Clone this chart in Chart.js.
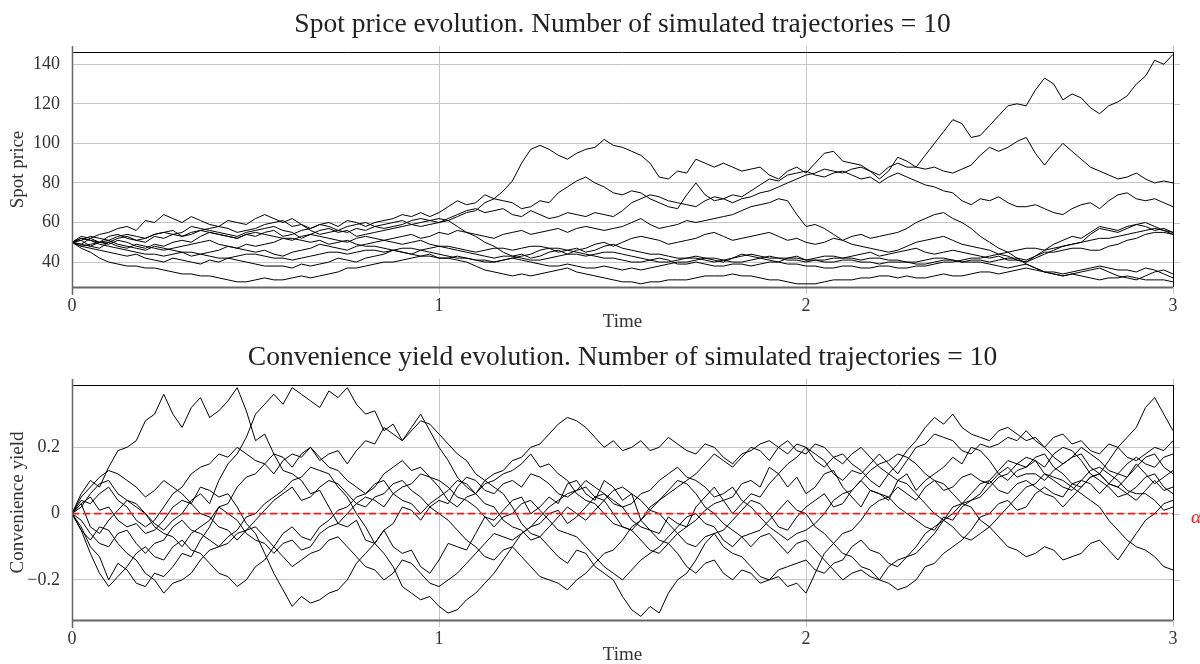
<!DOCTYPE html>
<html>
<head>
<meta charset="utf-8">
<title>Spot price and convenience yield</title>
<script src="https://cdn.jsdelivr.net/npm/chart.js@4.4.1/dist/chart.umd.min.js"></script>
<style>
  html, body { margin: 0; padding: 0; background: #fff; }
  #wrap { position: relative; width: 1200px; height: 664px; overflow: hidden; }
  canvas { position: absolute; left: 0; }
  #spot { top: 0; }
  #yield { top: 333px; }
</style>
</head>
<body>
<div id="wrap">
  <canvas id="spot" width="1200" height="332"></canvas>
  <canvas id="yield" width="1200" height="332"></canvas>
</div>
<script>
// time grid: 0 .. 3 in steps of 0.025
const times = Array.from({ length: 121 }, (_, i) => i / 40);
const timeTicks = [0, 1, 2, 3];
const spotTicks = [40, 60, 80, 100, 120, 140];
const yieldTicks = [-0.2, 0, 0.2];

// spot price trajectories
const spot1 = [50,49,52,54,55,57,58,56,61,60,64,62,60,63,61,59,58,61,60,59,62,64,62,60,62,59,57,59,60,58,61,60,58,60,61,62,64,63,65,63,65,68,71,69,70,74,72,76,81,90,97,99,97,94,92,95,97,98,102,99,98,96,94,90,83,82,86,85,92,90,88,90,88,86,87,88,84,82,86,88,85,90,95,96,91,90,89,86,82,86,93,91,88,94,100,106,112,110,103,104,109,114,119,120,119,127,133,130,122,125,123,118,115,119,121,124,130,134,142,140,145];
const spot2 = [50,52,51,50,53,54,52,51,50,53,52,54,55,58,57,56,55,54,53,55,56,57,58,56,55,52,54,56,57,55,56,53,54,55,56,57,58,59,60,61,62,61,63,65,66,70,72,71,70,67,68,71,70,75,78,81,83,80,78,75,74,76,75,72,70,68,67,74,80,74,71,72,70,72,73,75,76,78,80,82,84,85,87,86,85,87,88,86,84,88,90,88,88,87,88,86,85,87,89,94,98,96,98,101,103,95,89,95,100,96,92,88,86,84,82,83,85,82,80,81,80];
const spot3 = [50,51,48,47,50,52,53,51,52,54,55,56,53,54,56,57,58,57,55,56,57,59,60,61,58,59,56,54,55,56,58,59,60,58,57,58,59,61,62,61,60,62,64,66,67,65,66,67,64,63,66,64,62,63,65,64,63,65,64,63,66,70,72,74,73,71,70,69,68,71,73,72,74,73,76,79,82,81,84,85,86,84,83,85,86,84,82,83,80,83,85,83,81,79,78,76,75,71,69,72,71,73,70,68,68,69,67,65,64,67,69,70,67,71,74,75,72,71,72,70,68];
const spot4 = [50,53,52,50,49,51,50,48,47,49,48,50,51,50,53,55,54,53,52,54,53,55,56,53,54,56,57,59,58,56,55,57,56,58,59,60,61,59,58,59,60,61,58,55,53,50,48,45,43,44,42,43,45,46,44,46,47,49,50,48,50,52,53,52,51,49,50,51,52,54,55,53,51,52,53,54,55,53,51,52,50,49,50,52,51,53,54,52,53,54,55,57,60,62,64,65,62,60,57,53,50,47,45,42,39,37,35,34,33,34,35,36,37,35,33,32,31,33,35,36,34];
const spot5 = [50,48,49,50,51,49,48,47,46,48,47,46,45,43,44,45,46,48,47,46,45,46,44,43,45,46,47,49,48,47,46,48,49,50,51,52,53,54,52,53,55,54,56,55,54,53,52,54,55,56,54,55,56,57,55,57,58,57,56,57,58,60,62,59,57,58,59,61,60,61,62,63,64,66,68,69,70,72,71,64,58,59,57,54,51,49,48,47,46,45,46,48,50,51,52,53,51,49,48,47,46,44,43,41,40,43,46,49,51,53,52,55,58,57,56,58,59,60,58,56,54];
const spot6 = [50,48,47,46,45,44,43,44,42,41,40,42,41,40,39,41,40,42,41,40,39,38,38,38,37,39,38,39,40,42,41,40,42,43,44,46,45,44,43,44,42,42,43,42,41,41,40,41,42,43,44,46,47,45,46,47,45,46,48,49,47,46,45,44,44,43,42,42,43,42,41,40,42,44,43,42,41,40,42,43,41,42,43,43,42,43,44,45,43,44,45,46,47,45,44,45,46,45,44,43,42,43,41,41,40,42,44,46,48,49,50,54,57,56,55,57,59,58,56,57,55];
const spot7 = [50,51,53,52,51,53,54,53,52,54,55,54,53,55,56,55,54,53,52,54,55,54,53,52,51,53,54,53,52,51,50,52,53,52,51,50,49,50,51,49,48,47,46,45,44,43,42,43,43,42,41,41,42,43,44,44,43,44,45,45,44,43,42,41,40,40,41,42,42,41,40,41,42,43,44,43,42,42,41,41,40,41,41,42,42,42,41,42,42,41,41,40,40,41,42,42,41,40,41,41,40,41,42,42,41,43,45,45,46,47,47,46,46,48,49,51,52,54,55,55,54];
const spot8 = [50,49,48,50,50,48,47,49,48,47,46,47,48,49,50,51,49,48,47,49,48,49,50,52,52,51,50,51,49,50,51,49,48,48,47,46,45,44,46,45,44,43,42,42,41,40,40,41,42,41,40,39,38,38,39,38,37,37,38,37,36,37,36,37,38,39,40,40,41,42,42,41,40,40,41,42,43,42,42,42,41,41,40,40,41,41,40,40,39,40,40,40,39,39,40,41,41,40,40,40,39,38,37,38,39,37,35,34,33,34,33,32,31,32,32,33,32,31,31,31,30];
const spot9 = [50,47,45,42,40,39,38,38,37,37,36,35,34,34,33,33,32,31,30,30,31,32,31,31,32,33,32,33,34,35,37,37,38,39,40,40,41,42,43,43,42,42,41,40,38,36,35,34,33,34,33,34,35,36,37,35,34,33,32,31,30,30,29,30,30,31,31,31,32,33,33,33,34,33,33,32,31,31,30,29,29,29,30,31,31,31,32,32,33,33,32,33,32,32,33,34,33,33,34,35,35,34,35,36,37,36,35,35,34,35,36,37,38,37,36,36,35,37,36,34,32];
const spot10 = [50,52,51,49,48,47,46,45,44,44,43,44,45,45,44,43,42,42,43,44,44,43,42,42,41,42,43,44,45,45,44,45,46,46,45,46,47,47,46,47,48,48,47,46,45,46,47,47,46,47,48,48,47,47,46,45,44,43,42,42,41,40,40,41,42,41,39,39,40,39,38,38,39,39,38,39,40,40,39,39,38,38,37,37,38,38,37,37,38,38,37,37,38,38,39,40,40,41,42,42,43,44,45,46,47,47,46,47,48,49,50,51,52,52,53,54,55,56,57,56,55];

// convenience yield trajectories
const yield1 = [0.00,0.06,0.10,0.08,0.14,0.19,0.20,0.22,0.28,0.30,0.36,0.30,0.26,0.32,0.35,0.29,0.31,0.34,0.38,0.31,0.22,0.24,0.18,0.13,0.12,0.10,0.06,0.07,0.02,-0.03,-0.04,-0.02,-0.08,-0.09,-0.05,-0.10,-0.12,-0.11,-0.16,-0.18,-0.14,-0.09,-0.10,-0.11,-0.06,-0.01,-0.02,0.01,0.04,0.05,0.00,0.02,0.05,0.03,0.09,0.10,0.06,0.04,0.10,0.08,0.04,0.06,-0.02,-0.05,-0.06,-0.01,-0.03,-0.04,0.02,0.05,0.08,0.04,0.05,0.09,0.10,0.08,0.14,0.12,0.08,0.11,0.06,0.08,0.12,0.13,0.08,0.05,0.02,0.07,0.06,0.04,0.10,0.12,0.07,0.10,0.12,0.14,0.17,0.15,0.20,0.19,0.16,0.12,0.10,0.13,0.14,0.16,0.12,0.10,0.08,0.07,0.10,0.09,0.06,0.09,0.12,0.11,0.15,0.12,0.09,0.11,0.13];
const yield2 = [0.00,0.03,-0.04,-0.06,-0.02,0.01,0.04,0.02,0.00,-0.03,-0.05,-0.02,0.00,0.04,0.06,0.03,0.10,0.15,0.18,0.23,0.30,0.33,0.36,0.33,0.38,0.36,0.34,0.32,0.37,0.35,0.38,0.33,0.30,0.31,0.25,0.27,0.22,0.26,0.30,0.25,0.20,0.16,0.11,0.08,0.06,0.09,0.10,0.12,0.13,0.15,0.18,0.14,0.15,0.12,0.10,0.06,0.04,0.03,0.00,-0.03,-0.04,-0.05,-0.08,-0.11,-0.12,-0.09,-0.06,-0.04,-0.02,0.01,0.03,0.04,0.00,0.03,0.06,0.05,0.09,0.12,0.15,0.17,0.20,0.16,0.14,0.17,0.18,0.15,0.13,0.10,0.08,0.12,0.15,0.19,0.22,0.26,0.29,0.27,0.30,0.26,0.24,0.23,0.22,0.25,0.26,0.24,0.22,0.23,0.20,0.17,0.15,0.17,0.18,0.14,0.12,0.16,0.20,0.23,0.26,0.32,0.35,0.30,0.25];
const yield3 = [0.00,-0.04,-0.10,-0.13,-0.20,-0.15,-0.17,-0.21,-0.22,-0.18,-0.19,-0.16,-0.12,-0.13,-0.08,-0.04,0.02,0.03,0.08,0.11,0.12,0.15,0.18,0.17,0.14,0.18,0.20,0.16,0.18,0.19,0.15,0.19,0.22,0.21,0.26,0.24,0.22,0.25,0.28,0.27,0.24,0.21,0.18,0.16,0.12,0.10,0.08,0.06,0.02,-0.03,-0.06,-0.07,-0.10,-0.13,-0.15,-0.11,-0.12,-0.16,-0.18,-0.20,-0.25,-0.29,-0.31,-0.28,-0.30,-0.24,-0.20,-0.18,-0.14,-0.09,-0.06,-0.05,-0.02,0.01,0.04,0.03,0.00,-0.04,-0.05,-0.01,0.02,0.04,0.06,0.02,0.03,0.07,0.10,0.07,0.06,0.05,0.02,0.00,-0.02,-0.04,-0.05,-0.01,-0.02,0.02,0.04,0.05,0.08,0.11,0.12,0.15,0.17,0.16,0.14,0.18,0.20,0.19,0.16,0.12,0.10,0.08,0.05,0.06,0.08,0.11,0.12,0.08,0.06];
const yield4 = [0.00,0.03,0.05,0.01,0.02,-0.02,-0.04,-0.03,-0.06,-0.05,-0.02,0.02,0.04,0.03,0.08,0.07,0.05,0.06,0.02,-0.03,-0.06,-0.12,-0.18,-0.23,-0.28,-0.25,-0.27,-0.26,-0.24,-0.23,-0.20,-0.15,-0.12,-0.09,-0.05,-0.03,0.02,0.01,-0.02,0.02,0.04,0.03,0.08,0.11,0.10,0.07,0.06,0.09,0.10,0.08,0.12,0.11,0.09,0.06,0.05,0.07,0.08,0.05,0.04,0.00,-0.04,-0.05,-0.02,0.01,0.04,0.06,0.08,0.10,0.12,0.15,0.18,0.16,0.14,0.17,0.20,0.19,0.16,0.20,0.22,0.19,0.18,0.21,0.20,0.17,0.15,0.18,0.20,0.17,0.14,0.12,0.10,0.09,0.06,0.03,0.00,-0.02,-0.04,-0.07,-0.08,-0.06,-0.04,-0.01,0.02,0.05,0.08,0.09,0.12,0.11,0.10,0.08,0.06,0.04,0.02,-0.02,-0.05,-0.08,-0.10,-0.11,-0.13,-0.16,-0.17];
const yield5 = [0.00,-0.02,-0.06,-0.09,-0.10,-0.06,-0.05,-0.09,-0.12,-0.09,-0.08,-0.04,-0.02,-0.05,-0.06,-0.08,-0.10,-0.07,-0.05,-0.01,0.00,0.03,0.05,0.07,0.10,0.11,0.14,0.13,0.12,0.08,0.05,0.00,-0.04,-0.09,-0.12,-0.16,-0.22,-0.24,-0.26,-0.25,-0.28,-0.30,-0.29,-0.26,-0.24,-0.21,-0.18,-0.14,-0.10,-0.06,-0.04,-0.03,0.00,0.01,-0.03,-0.01,0.02,0.05,0.06,0.03,0.02,-0.02,-0.04,-0.05,-0.08,-0.09,-0.12,-0.16,-0.18,-0.15,-0.14,-0.18,-0.20,-0.17,-0.18,-0.21,-0.20,-0.19,-0.22,-0.21,-0.24,-0.18,-0.12,-0.09,-0.06,-0.05,-0.02,0.02,0.04,0.05,0.08,0.06,0.04,0.08,0.10,0.07,0.08,0.11,0.12,0.10,0.09,0.12,0.14,0.11,0.12,0.12,0.10,0.13,0.15,0.17,0.20,0.18,0.16,0.13,0.12,0.15,0.17,0.15,0.14,0.17,0.18];
const yield6 = [0.00,-0.05,-0.08,-0.04,-0.05,-0.09,-0.12,-0.14,-0.18,-0.20,-0.24,-0.21,-0.20,-0.18,-0.14,-0.11,-0.10,-0.09,-0.06,-0.05,-0.02,0.01,0.04,0.06,0.08,0.04,0.05,0.08,0.10,0.09,0.06,0.03,0.02,0.05,0.06,0.09,0.10,0.07,0.05,0.02,0.00,-0.02,-0.05,-0.08,-0.10,-0.13,-0.14,-0.11,-0.10,-0.13,-0.16,-0.19,-0.20,-0.21,-0.23,-0.20,-0.18,-0.15,-0.12,-0.11,-0.08,-0.04,-0.02,0.02,0.04,0.07,0.10,0.09,0.06,0.02,0.00,-0.03,-0.05,-0.07,-0.10,-0.07,-0.06,-0.09,-0.12,-0.09,-0.08,-0.11,-0.14,-0.17,-0.20,-0.18,-0.17,-0.19,-0.20,-0.16,-0.14,-0.13,-0.10,-0.06,-0.04,-0.02,0.02,0.03,0.06,0.09,0.10,0.07,0.06,0.09,0.10,0.08,0.06,0.05,0.02,0.05,0.08,0.11,0.12,0.09,0.08,0.06,0.04,0.07,0.10,0.07,0.08];
const yield7 = [0.00,0.04,0.03,0.06,0.08,0.04,0.02,-0.02,-0.04,-0.02,0.02,0.06,0.08,0.12,0.14,0.15,0.18,0.17,0.20,0.18,0.16,0.15,0.12,0.16,0.18,0.17,0.20,0.17,0.14,0.13,0.10,0.08,0.06,0.09,0.10,0.06,0.04,0.03,0.00,0.03,0.05,0.07,0.10,0.09,0.06,0.10,0.12,0.13,0.16,0.17,0.20,0.21,0.24,0.27,0.29,0.28,0.26,0.23,0.20,0.22,0.19,0.20,0.22,0.19,0.20,0.23,0.21,0.19,0.18,0.21,0.20,0.17,0.15,0.18,0.19,0.21,0.22,0.20,0.18,0.21,0.20,0.18,0.16,0.12,0.10,0.13,0.12,0.15,0.18,0.15,0.12,0.16,0.20,0.21,0.24,0.23,0.22,0.19,0.18,0.21,0.20,0.21,0.23,0.22,0.25,0.22,0.20,0.23,0.24,0.21,0.22,0.19,0.18,0.21,0.20,0.17,0.16,0.18,0.20,0.19,0.22];
const yield8 = [0.00,0.02,0.06,0.09,0.10,0.06,0.04,0.03,0.00,-0.04,-0.06,-0.07,-0.10,-0.06,-0.04,-0.02,0.02,0.00,-0.02,-0.06,-0.08,-0.09,-0.12,-0.09,-0.08,-0.11,-0.10,-0.06,-0.04,-0.03,0.00,0.03,0.05,0.04,0.02,0.06,0.08,0.09,0.12,0.11,0.10,0.08,0.05,0.04,0.02,-0.01,-0.04,-0.01,0.00,0.03,0.04,0.01,-0.02,-0.05,-0.06,-0.07,-0.10,-0.13,-0.16,-0.18,-0.20,-0.17,-0.14,-0.12,-0.10,-0.07,-0.04,-0.01,0.00,-0.03,-0.04,-0.08,-0.10,-0.07,-0.06,-0.05,-0.02,0.01,0.04,0.01,0.00,-0.04,-0.06,-0.09,-0.12,-0.13,-0.16,-0.17,-0.20,-0.21,-0.23,-0.22,-0.20,-0.16,-0.15,-0.12,-0.10,-0.08,-0.05,-0.01,0.00,0.03,0.04,0.01,0.02,0.06,0.08,0.06,0.05,0.09,0.10,0.13,0.14,0.12,0.10,0.07,0.06,0.06,0.04,0.01,0.02];
const yield9 = [0.00,0.05,0.08,0.11,0.13,0.12,0.10,0.08,0.05,0.07,0.10,0.08,0.06,0.03,0.00,-0.01,-0.04,-0.05,-0.08,-0.05,-0.04,-0.07,-0.10,-0.13,-0.16,-0.14,-0.12,-0.11,-0.08,-0.07,-0.10,-0.13,-0.16,-0.17,-0.20,-0.18,-0.14,-0.15,-0.18,-0.21,-0.22,-0.20,-0.18,-0.15,-0.12,-0.09,-0.06,-0.07,-0.08,-0.06,-0.04,-0.01,0.02,0.04,0.06,0.07,0.10,0.08,0.06,0.04,0.02,0.03,0.06,0.07,0.10,0.12,0.14,0.11,0.10,0.08,0.05,0.06,0.08,0.04,0.02,-0.01,-0.04,-0.06,-0.08,-0.06,-0.05,-0.03,0.00,0.04,0.06,0.07,0.10,0.13,0.15,0.16,0.18,0.17,0.15,0.12,0.10,0.09,0.06,0.03,0.02,-0.02,-0.04,-0.07,-0.10,-0.11,-0.13,-0.12,-0.10,-0.11,-0.14,-0.13,-0.12,-0.09,-0.08,-0.11,-0.14,-0.10,-0.06,-0.02,0.00,0.03,0.04];
const yield10 = [0.00,-0.05,-0.12,-0.18,-0.22,-0.19,-0.16,-0.12,-0.10,-0.13,-0.14,-0.10,-0.08,-0.11,-0.12,-0.15,-0.18,-0.19,-0.22,-0.20,-0.16,-0.14,-0.10,-0.06,-0.04,-0.07,-0.08,-0.04,-0.02,0.01,0.02,0.05,0.06,0.08,0.12,0.14,0.16,0.13,0.14,0.11,0.08,0.04,0.02,0.05,0.06,0.03,0.02,-0.02,-0.04,-0.05,-0.08,-0.07,-0.04,-0.01,0.02,0.00,-0.02,0.01,0.04,0.07,0.08,0.06,0.04,0.01,0.00,-0.03,-0.06,-0.09,-0.10,-0.07,-0.06,-0.10,-0.12,-0.13,-0.16,-0.19,-0.20,-0.17,-0.16,-0.15,-0.14,-0.17,-0.18,-0.15,-0.14,-0.10,-0.08,-0.11,-0.12,-0.15,-0.16,-0.13,-0.12,-0.09,-0.06,-0.02,0.00,0.03,0.04,0.06,0.10,0.13,0.16,0.15,0.14,0.17,0.18,0.14,0.12,0.09,0.08,0.11,0.12,0.09,0.08,0.11,0.14,0.17,0.18,0.14,0.12];

const alphaLevel = 0;

const spotPaths = [spot1, spot2, spot3, spot4, spot5, spot6, spot7, spot8, spot9, spot10];
const yieldPaths = [yield1, yield2, yield3, yield4, yield5, yield6, yield7, yield8, yield9, yield10];

const SERIF = "'Liberation Serif', 'DejaVu Serif', serif";
const GRID = '#c6c6c6';

function toPoints(values) {
  return values.map((v, i) => ({ x: times[i], y: v }));
}

function pathSet(paths) {
  return paths.map(p => ({
    data: toPoints(p),
    borderColor: '#000',
    borderWidth: 1,
    pointRadius: 0,
    tension: 0,
    order: 1
  }));
}

// heading, frame and the little tick stubs around the plot box
const framePlugin = {
  id: 'frame',
  afterDatasetsDraw(chart, args, opts) {
    const { ctx, chartArea: a, scales } = chart;
    ctx.save();
    ctx.strokeStyle = GRID;
    ctx.lineWidth = 1;
    ctx.beginPath();
    timeTicks.forEach(t => {
      const x = Math.round(scales.x.getPixelForValue(t)) + 0.5;
      ctx.moveTo(x, a.top - 6); ctx.lineTo(x, a.top);
      ctx.moveTo(x, a.bottom); ctx.lineTo(x, a.bottom + 7);
    });
    opts.yTicks.forEach(v => {
      const y = Math.round(scales.y.getPixelForValue(v)) + 0.5;
      ctx.moveTo(a.right, y); ctx.lineTo(a.right + 7, y);
    });
    ctx.stroke();

    ctx.strokeStyle = '#000';
    ctx.lineWidth = 1;
    ctx.beginPath();
    ctx.moveTo(a.left, a.top + 0.5); ctx.lineTo(a.right, a.top + 0.5);
    ctx.moveTo(a.right + 0.5, a.top); ctx.lineTo(a.right + 0.5, a.bottom);
    ctx.stroke();

    ctx.strokeStyle = '#666';
    ctx.lineWidth = 1.5;
    ctx.beginPath();
    ctx.moveTo(a.left + 0.5, a.top - 6); ctx.lineTo(a.left + 0.5, a.bottom + 8);
    ctx.stroke();
    ctx.lineWidth = 2;
    ctx.beginPath();
    ctx.moveTo(a.left, a.bottom + 0.5); ctx.lineTo(a.right, a.bottom + 0.5);
    ctx.stroke();

    ctx.fillStyle = '#222';
    ctx.font = '27.5px ' + SERIF;
    ctx.textAlign = 'center';
    ctx.textBaseline = 'middle';
    ctx.fillText(opts.heading, (a.left + a.right) / 2, 25);

    if (opts.alpha) {
      ctx.fillStyle = '#ff1a1a';
      ctx.font = 'italic 19px ' + SERIF;
      ctx.textAlign = 'left';
      ctx.fillText('\u03b1', a.right + 18, scales.y.getPixelForValue(alphaLevel) + 4);
    }
    ctx.restore();
  }
};

function makeChart(canvasId, datasets, yCfg, yTitle, heading, alpha) {
  return new Chart(document.getElementById(canvasId), {
    type: 'line',
    data: { datasets },
    options: {
      responsive: false,
      animation: false,
      events: [],
      layout: { padding: { top: 52, right: 27, bottom: 0, left: 0 } },
      plugins: {
        legend: { display: false },
        tooltip: { enabled: false },
        frame: { heading, alpha, yTicks: yCfg.ticks }
      },
      scales: {
        x: {
          type: 'linear',
          min: 0,
          max: 3,
          afterBuildTicks: s => { s.ticks = timeTicks.map(v => ({ value: v })); },
          afterFit: s => { s.height = 45; },
          grid: { color: GRID, lineWidth: 1, drawTicks: false },
          border: { display: false },
          ticks: { padding: 8, color: '#333', font: { family: SERIF, size: 18 } },
          title: { display: true, text: 'Time', color: '#333', padding: 0, font: { family: SERIF, size: 19, lineHeight: 1 } }
        },
        y: {
          type: 'linear',
          min: yCfg.min,
          max: yCfg.max,
          afterBuildTicks: s => { s.ticks = yCfg.ticks.map(v => ({ value: v })); },
          afterFit: s => { s.width = 72; },
          grid: { color: GRID, lineWidth: 1, drawTicks: false },
          border: { display: false },
          ticks: {
            padding: 12,
            color: '#333',
            font: { family: SERIF, size: 18 },
            callback: v => (v < 0 ? '\u2212' + String(-v) : String(v))
          },
          title: { display: true, text: yTitle, color: '#333', padding: { top: 8.5, bottom: 0 }, font: { family: SERIF, size: 19, lineHeight: 1 } }
        }
      }
    },
    plugins: [framePlugin]
  });
}

makeChart('spot', pathSet(spotPaths),
  { min: 27.4, max: 146.2, ticks: spotTicks },
  'Spot price',
  'Spot price evolution. Number of simulated trajectories = 10',
  false);

const yieldSets = pathSet(yieldPaths);
yieldSets.unshift({
  data: [{ x: 0, y: alphaLevel }, { x: 3, y: alphaLevel }],
  borderColor: '#ff1a1a',
  borderWidth: 1.8,
  borderDash: [7, 4],
  pointRadius: 0,
  order: 0
});

makeChart('yield', yieldSets,
  { min: -0.321, max: 0.388, ticks: yieldTicks },
  'Convenience yield',
  'Convenience yield evolution. Number of simulated trajectories = 10',
  true);
</script>
</body>
</html>
